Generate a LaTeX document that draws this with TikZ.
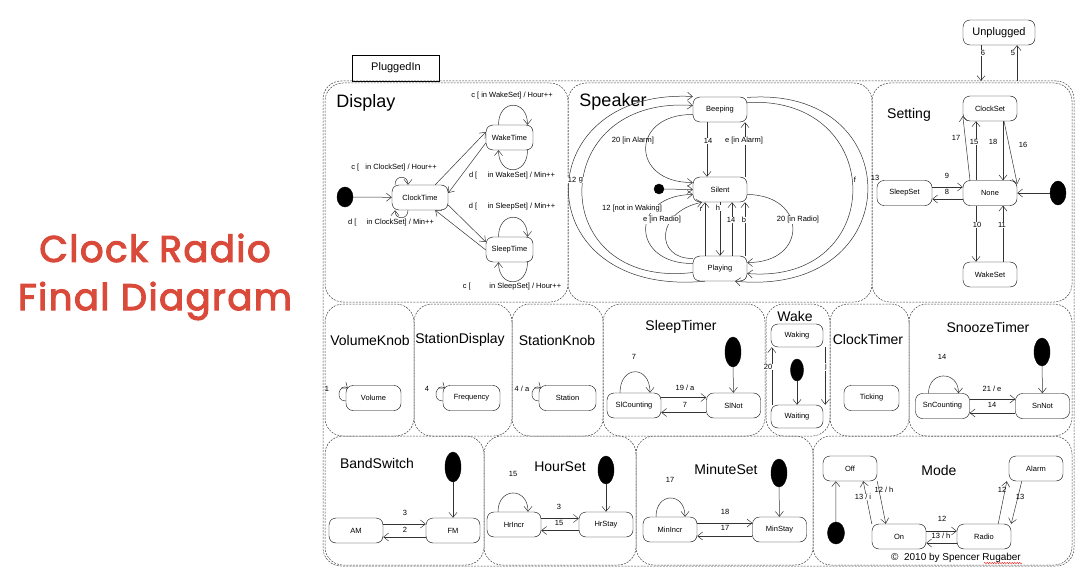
\documentclass[tikz,border=0pt]{standalone}
\usepackage{fontspec}
\setmainfont{Liberation Sans}
\newfontfamily\handfont{Poppins}[FakeBold=3,LetterSpace=4]
\usetikzlibrary{arrows.meta,shapes.geometric,decorations.pathmorphing}
\definecolor{titlered}{RGB}{217,74,58}

\begin{document}
\begin{tikzpicture}[x=1pt,y=-1pt]
\tikzset{sbox/.style={draw, rounded corners=7pt, minimum width=54pt, minimum height=25pt, inner sep=1pt, fill=white, font=\fontsize{7.5}{9}\selectfont},
  reg/.style={draw=black!75, dash pattern=on 2pt off 1.2pt, rounded corners=18pt, line width=0.5pt},
  initdot/.style={draw, fill=black, ellipse, inner sep=0pt, minimum width=16pt, minimum height=28pt},
  trans/.style={draw=black!80, line width=0.5pt, -{Straight Barb[length=5pt,width=8pt]}},
  lab/.style={inner sep=0.5pt, font=\fontsize{7.5}{9}\selectfont},
  wlab/.style={lab, fill=white},
  rtitle/.style={inner sep=0pt, font=\fontsize{14}{16}\selectfont},
  bigtitle/.style={text=titlered, font=\handfont\fontsize{37}{42}\selectfont}}
\useasboundingbox (0,0) rectangle (1090,583);

\node[bigtitle] (title1) at (155,248) {Clock Radio};
\node[bigtitle] (title2) at (155,301) {Final Diagram};

% frame and regions
\node[draw, minimum width=87pt, minimum height=26pt, font=\fontsize{11}{13}\selectfont] (tab) at (396,68) {PluggedIn};
\node[reg, minimum width=751pt, minimum height=485pt] (plugged) at (698.5,323.5) {};
\draw[reg] (325,83) rectangle (568,302);
\draw[reg] (568,83) rectangle (872,302);
\draw[reg] (872,83) rectangle (1072,302);
\draw[reg] (325,304) rectangle (414,436);
\draw[reg] (414,304) rectangle (512,436);
\draw[reg] (512,304) rectangle (603,436);
\draw[reg] (603,304) rectangle (765,436);
\draw[reg] (766,304) rectangle (830,436);
\draw[reg] (830,304) rectangle (909,436);
\draw[reg] (909,304) rectangle (1072,436);
\draw[reg] (325,436) rectangle (484,565);
\draw[reg] (484,436) rectangle (636,565);
\draw[reg] (636,436) rectangle (813,565);
\draw[reg] (813,436) rectangle (1072,565);

\node[sbox, minimum width=72pt, font=\fontsize{11}{13}\selectfont] (unplugged) at (999,32.5) {Unplugged};
\coordinate (in6) at (981,81);
\coordinate (out5) at (1017,81);
\draw[trans] ([xshift=-18pt]unplugged.south) -- (in6);
\draw[trans] (out5) -- ([xshift=18pt]unplugged.south);
\node[wlab] at (983,53) {6};
\node[wlab] at (1013,53) {5};

% Display
\node[rtitle, font=\fontsize{18}{20}\selectfont] (tDisplay) at (366,103) {Display};
\node[initdot, minimum height=20pt] (dIni) at (345,197) {};
\node[sbox, minimum width=56pt] (clockTime) at (420,197.5) {ClockTime};
\node[sbox, minimum width=47pt] (wakeTime) at (509.5,137.5) {WakeTime};
\node[sbox, minimum width=47pt] (sleepTime) at (509.5,249.5) {SleepTime};
\draw[trans] (dIni) -- (clockTime);
\draw[trans] ([xshift=-13pt]clockTime.north east) -- ([yshift=5.5pt]wakeTime.west);
\draw[trans] ([yshift=-5.5pt]wakeTime.west) -- ([yshift=4.5pt]clockTime.east);
\draw[trans] ([yshift=-7.5pt]clockTime.east) -- ([yshift=7.5pt]sleepTime.west);
\draw[trans] ([yshift=-0.5pt]sleepTime.west) -- ([xshift=-13pt]clockTime.south east);
\draw[trans] ([xshift=-25pt]clockTime.north) .. controls +(0,-10) and +(0,-10) .. ([xshift=-12pt]clockTime.north);
\draw[trans] ([xshift=-12pt]clockTime.south) .. controls +(0,10) and +(0,10) .. ([xshift=-25pt]clockTime.south);
\draw[trans] ([xshift=-11pt]wakeTime.north) .. controls +(0,-26) and +(0,-26) .. ([xshift=18pt]wakeTime.north);
\draw[trans] ([xshift=18pt]wakeTime.south) .. controls +(0,26) and +(0,26) .. ([xshift=-11pt]wakeTime.south);
\draw[trans] ([xshift=-11pt]sleepTime.north) .. controls +(0,-26) and +(0,-26) .. ([xshift=18pt]sleepTime.north);
\draw[trans] ([xshift=18pt]sleepTime.south) .. controls +(0,26) and +(0,26) .. ([xshift=-11pt]sleepTime.south);
\node[lab] at (394,168) {c [~~ in ClockSet] / Hour++};
\node[lab] at (391,223) {d [~~~~ in ClockSet] / Min++};
\node[lab] at (512,96) {c [ in WakeSet] / Hour++};
\node[lab] at (512,176) {d [~~~~ in WakeSet] / Min++};
\node[lab] at (512,207) {d [~~~~ in SleepSet] / Min++};
\node[lab] at (512,287) {c [~~~~~~~~ in SleepSet] / Hour++};

% Speaker
\node[rtitle, font=\fontsize{18}{20}\selectfont] (tSpeaker) at (613,102) {Speaker};
\node[sbox] (beeping) at (720,109.5) {Beeping};
\node[sbox] (silent) at (720,189.5) {Silent};
\node[sbox] (playing) at (720,268.5) {Playing};
\node[initdot, minimum width=10pt, minimum height=10pt] (sIni) at (659,189) {};
\draw[trans] (sIni) -- (silent.west);
\draw[trans] ([xshift=-13pt]beeping.south) -- ([xshift=-13pt]silent.north);
\draw[trans] ([xshift=25pt]silent.north) -- ([xshift=25pt]beeping.south);
\draw[trans] ([xshift=-15pt]playing.north) -- ([xshift=-15pt]silent.south);
\draw[trans] (silent.south) -- (playing.north);
\draw[trans] ([xshift=12pt]playing.north) -- ([xshift=12pt]silent.south);
\draw[trans] ([xshift=25pt]playing.north) -- ([xshift=25pt]silent.south);
\draw[trans] ([yshift=-5pt]beeping.west) .. controls (630,114) and (630,183) .. ([yshift=7pt]silent.west);
\draw[trans] ([yshift=5pt]playing.west) .. controls (630,264) and (630,195) .. ([yshift=-5pt]silent.west);
\draw[trans] ([yshift=10pt]playing.west) .. controls (655,259) and (655,212) .. ([xshift=-18pt]silent.south);
\draw[trans] ([yshift=-5pt]silent.east) .. controls (808,195) and (808,263) .. ([yshift=6pt]playing.east);
\draw[trans] ([xshift=-15pt]playing.south) .. controls (525,298) and (525,88) .. ([yshift=13pt]beeping.west);
\draw[trans] ([yshift=-4pt]playing.west) .. controls (545,290) and (545,95) .. ([yshift=4pt]beeping.west);
\draw[trans] ([yshift=12pt]beeping.east) .. controls (910,85) and (910,298) .. ([xshift=15pt]playing.south);
\draw[trans] ([yshift=7pt]beeping.east) .. controls (888,95) and (888,285) .. ([yshift=-5pt]playing.east);
\node[lab] at (633,141) {20 [in Alarm]};
\node[wlab] at (708,141) {14};
\node[wlab] at (744,141) {e [in Alarm]};
\node[wlab] at (632,209) {12 [not in Waking]};
\node[wlab] at (662,220) {e [in Radio]};
\node[lab] at (701,209) {r};
\node[wlab] at (718,208) {h};
\node[wlab] at (731,220) {14};
\node[wlab] at (744,220) {b};
\node[wlab] at (798,220) {20 [in Radio]};
\node[wlab] at (572,180) {12};
\node[wlab] at (581,180) {g};
\node[wlab] at (855,180) {f};

% Setting
\node[rtitle] (tSetting) at (909,115) {Setting};
\node[sbox] (clockSet) at (990,108.5) {ClockSet};
\node[sbox] (none) at (990,193) {None};
\node[sbox, minimum width=55pt] (sleepSet) at (904.5,193) {SleepSet};
\node[sbox] (wakeSet) at (990,274.5) {WakeSet};
\node[initdot, minimum height=24pt] (setIni) at (1058,193) {};
\draw[trans] (setIni) -- (none);
\draw[trans] ([xshift=-20pt]none.north) -- ([yshift=-7.5pt]clockSet.west);
\draw[trans] ([xshift=-14pt]none.north) -- ([xshift=-14pt]clockSet.south);
\draw[trans] ([xshift=13pt]clockSet.south) -- ([xshift=13pt]none.north);
\draw[trans] ([xshift=14pt]clockSet.south) -- ([yshift=9pt]none.east);
\draw[trans] ([yshift=6pt]sleepSet.east) -- ([yshift=6pt]none.west);
\draw[trans] ([yshift=-6pt]none.west) -- ([yshift=-6pt]sleepSet.east);
\draw[trans] ([xshift=-14pt]none.south) -- ([xshift=-14pt]wakeSet.north);
\draw[trans] ([xshift=13pt]wakeSet.north) -- ([xshift=13pt]none.south);
\node[lab] at (956,138) {17};
\node[wlab] at (974,142) {15};
\node[lab] at (993,142) {18};
\node[lab] at (1023,145) {16};
\node[lab] at (947,176) {9};
\node[wlab] at (947,192) {8};
\node[wlab] at (977,225) {10};
\node[wlab] at (1002,225) {11};
\node[lab] at (875,178) {13};

% VolumeKnob, StationDisplay, StationKnob
\node[rtitle] (tVolume) at (370,340) {VolumeKnob};
\node[sbox, minimum width=55pt] (volume) at (373.5,398) {Volume};
\draw[trans] ([yshift=-3pt]volume.west) .. controls +(-12,0) and +(-8,-6) .. ([xshift=2pt,yshift=-3pt]volume.north west);
\node[lab] at (327,389) {1};
\node[rtitle] (tStDisp) at (460,340) {StationDisplay};
\node[sbox, minimum width=57pt] (frequency) at (471.5,398) {Frequency};
\draw[trans] ([yshift=-3pt]frequency.west) .. controls +(-12,0) and +(-8,-6) .. ([xshift=2pt,yshift=-3pt]frequency.north west);
\node[lab] at (427,389) {4};
\node[rtitle] (tStKnob) at (557,340) {StationKnob};
\node[sbox, minimum width=57pt] (station) at (567.5,398) {Station};
\draw[trans] ([yshift=-3pt]station.west) .. controls +(-12,0) and +(-8,-6) .. ([xshift=2pt,yshift=-3pt]station.north west);
\node[lab] at (522,389) {4 / a};

% SleepTimer
\node[rtitle] (tSleep) at (681,327) {SleepTimer};
\node[sbox] (slCounting) at (634,405.5) {SlCounting};
\node[sbox] (slNot) at (733.5,405.5) {SlNot};
\node[initdot, minimum height=30pt] (slIni) at (733,352) {};
\draw[trans] (slIni) -- (slNot);
\draw[trans] ([xshift=-14pt]slCounting.north) .. controls +(0,-28) and +(0,-28) .. ([xshift=16pt]slCounting.north);
\draw[trans] ([yshift=8pt]slCounting.east) -- ([yshift=8pt]slNot.west);
\draw[trans] ([yshift=-7pt]slNot.west) -- ([yshift=-7pt]slCounting.east);
\node[lab] at (634,357) {7};
\node[lab] at (685,388) {19 / a};
\node[lab] at (685,405) {7};

% Wake
\node[rtitle] (tWake) at (795,316) {Wake};
\node[sbox, minimum width=52pt, minimum height=23pt] (waking) at (797,335.5) {Waking};
\node[sbox, minimum width=52pt, minimum height=23pt] (waiting) at (797,416.5) {Waiting};
\node[initdot, minimum width=13pt, minimum height=22pt] (wIni) at (797,370) {};
\draw[trans] (wIni) -- (waiting);
\draw[trans] ([xshift=1pt]waiting.north west) -- ([xshift=1pt]waking.south west);
\draw[trans] ([xshift=2pt]waking.south east) -- ([xshift=2pt]waiting.north east);
\node[wlab] at (768,367) {20};
\node[wlab] at (826,367) {j};

% ClockTimer
\node[rtitle] (tClockT) at (868,339) {ClockTimer};
\node[sbox, minimum width=55pt] (ticking) at (871.5,398) {Ticking};

% SnoozeTimer
\node[rtitle] (tSnooze) at (988,327) {SnoozeTimer};
\node[sbox] (snCounting) at (942.5,406) {SnCounting};
\node[sbox] (snNot) at (1042.5,406) {SnNot};
\node[initdot] (snIni) at (1042,352) {};
\draw[trans] (snIni) -- (snNot);
\draw[trans] ([xshift=-14pt]snCounting.north) .. controls +(0,-23) and +(0,-23) .. ([xshift=16pt]snCounting.north);
\draw[trans] ([yshift=7pt]snCounting.east) -- ([yshift=7pt]snNot.west);
\draw[trans] ([yshift=-7pt]snNot.west) -- ([yshift=-7pt]snCounting.east);
\node[lab] at (942,357) {14};
\node[lab] at (992,389) {21 / e};
\node[lab] at (992,405) {14};

% BandSwitch
\node[rtitle] (tBand) at (377,463) {BandSwitch};
\node[sbox] (am) at (356,530.5) {AM};
\node[sbox] (fm) at (453,530.5) {FM};
\node[initdot, minimum height=30pt] (bIni) at (453,467) {};
\draw[trans] (bIni) -- (fm);
\draw[trans] ([yshift=6.5pt]am.east) -- ([yshift=6.5pt]fm.west);
\draw[trans] ([yshift=-6.5pt]fm.west) -- ([yshift=-6.5pt]am.east);
\node[lab] at (405,513) {3};
\node[lab] at (405,530) {2};

% HourSet
\node[rtitle] (tHour) at (560,467) {HourSet};
\node[sbox] (hrIncr) at (514,524.5) {HrIncr};
\node[sbox] (hrStay) at (606,524.5) {HrStay};
\node[initdot] (hIni) at (606,470) {};
\draw[trans] (hIni) -- (hrStay);
\draw[trans] ([xshift=-16pt]hrIncr.north) .. controls +(0,-25) and +(0,-25) .. ([xshift=14pt]hrIncr.north);
\draw[trans] ([yshift=6pt]hrIncr.east) -- ([yshift=6pt]hrStay.west);
\draw[trans] ([yshift=-6pt]hrStay.west) -- ([yshift=-6pt]hrIncr.east);
\node[lab] at (513,474) {15};
\node[lab] at (559,507) {3};
\node[lab] at (559,523) {15};

% MinuteSet
\node[rtitle] (tMinute) at (726,469) {MinuteSet};
\node[sbox] (minIncr) at (670,529.5) {MinIncr};
\node[sbox] (minStay) at (779.5,529.5) {MinStay};
\node[initdot] (mIni) at (779,473) {};
\draw[trans] (mIni) -- (minStay);
\draw[trans] ([xshift=-14pt]minIncr.north) .. controls +(0,-25) and +(0,-25) .. ([xshift=15pt]minIncr.north);
\draw[trans] ([yshift=6.5pt]minIncr.east) -- ([yshift=6.5pt]minStay.west);
\draw[trans] ([yshift=-6.5pt]minStay.west) -- ([yshift=-6.5pt]minIncr.east);
\node[lab] at (670,480) {17};
\node[lab] at (725,512) {18};
\node[lab] at (725,528) {17};

% Mode
\node[rtitle] (tMode) at (939,470) {Mode};
\node[sbox] (off) at (850,468.5) {Off};
\node[sbox] (alarm) at (1036,468.5) {Alarm};
\node[sbox] (on) at (899,536.5) {On};
\node[sbox] (radio) at (984,536.5) {Radio};
\node[initdot, minimum width=17pt, minimum height=22pt] (modeIni) at (836,533) {};
\draw[trans] (modeIni) -- ([xshift=13pt]off.south west);
\draw[trans] (on.north west) -- ([xshift=-14pt]off.south east);
\draw[trans] (off.south east) -- ([xshift=14pt]on.north west);
\draw[trans] ([yshift=5.5pt]on.east) -- ([yshift=5.5pt]radio.west);
\draw[trans] ([yshift=-6.5pt]radio.west) -- ([yshift=-6.5pt]on.east);
\draw[trans] ([xshift=-13pt]radio.north east) -- ([xshift=-2pt]alarm.south west);
\draw[trans] ([xshift=13pt]alarm.south west) -- (radio.north east);
\node[wlab] at (863,497) {13 / i};
\node[lab] at (884,490) {12 / h};
\node[lab] at (942,519) {12};
\node[wlab] at (941,536) {13 / h};
\node[lab] at (1002,490) {12};
\node[lab] at (1020,497) {13};

\node[font=\fontsize{10}{12}\selectfont, inner sep=1pt] (copyright) at (956,558) {\textcopyright\ \ 2010 by Spencer Rugaber};
\draw[red, decorate, decoration={snake, amplitude=0.6pt, segment length=2.5pt}] (984,563) -- (1022,563);
\end{tikzpicture}
\end{document}
